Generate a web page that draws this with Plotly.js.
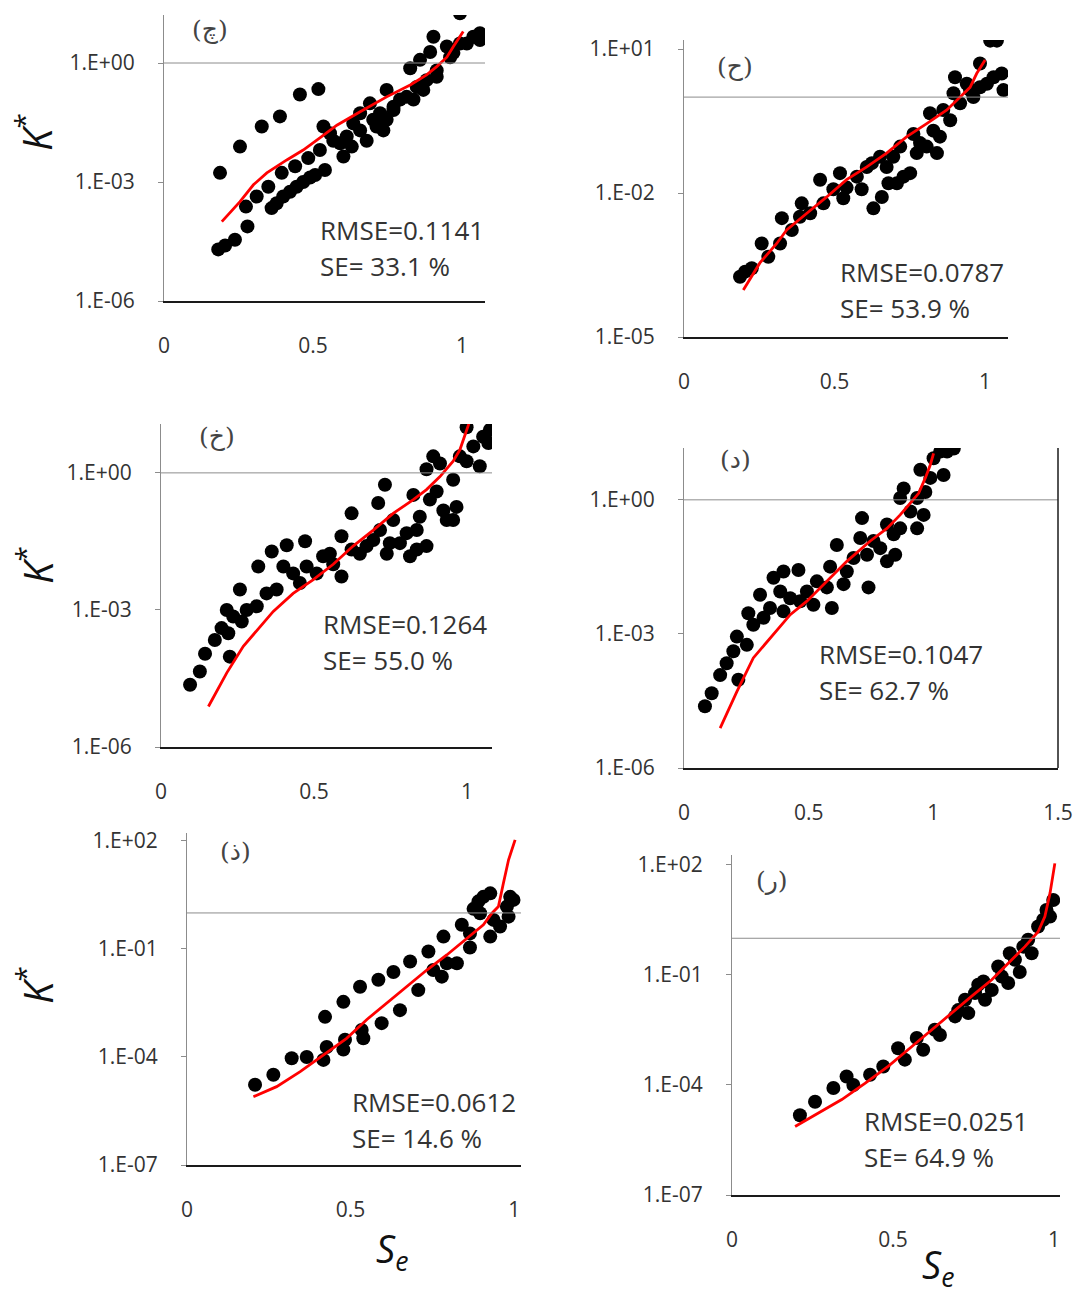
<!DOCTYPE html>
<html>
<head>
<meta charset="utf-8">
<script src="https://cdn.plot.ly/plotly-3.0.1.min.js"></script>
<style>html,body{margin:0;padding:0;background:#fff;}#chart{width:1075px;height:1295px;}</style>
</head>
<body>
<div id="chart"></div>
<script>
// ---------- DATA ----------
// Panel (چ)
const se1 = [0.182,0.205,0.238,0.280,0.275,0.311,0.350,0.361,0.378,0.400,0.423,0.445,0.467,0.490,0.507,0.395,0.440,0.484,0.523,0.540,0.535,0.568,0.591,0.602,0.630,0.613,0.635,0.658,0.680,0.702,0.691,0.725,0.736,0.747,0.770,0.747,0.792,0.814,0.837,0.826,0.859,0.881,0.893,0.904,0.915,0.870,0.949,0.960,0.993,1.016,1.038,1.060,1.060,0.993,0.557,0.658,0.713,0.770,0.848,0.915,0.971,0.188,0.255,0.328,0.389,0.456,0.518];
const k1  = [2.0e-5,2.5e-5,3.5e-5,7.6e-5,2.4e-4,4.3e-4,7.6e-4,2.2e-4,2.9e-4,4.3e-4,5.7e-4,7.6e-4,1.0e-3,1.3e-3,1.5e-3,1.7e-3,2.5e-3,4.0e-3,6.4e-3,2.0e-3,2.5e-2,1.1e-2,9.5e-3,4.4e-3,7.8e-3,1.4e-2,3.0e-2,5.4e-2,1.1e-2,3.7e-2,9.6e-2,5.4e-2,2.0e-2,3.7e-2,7.9e-2,0.21,0.12,0.14,0.12,0.74,1.2,0.37,1.9,4.6,0.45,0.21,2.6,1.4,3.1,3.1,4.6,3.8,5.6,18,1.7e-2,2.0e-2,2.5e-2,6.5e-2,0.25,0.65,1.8,1.7e-3,7.8e-3,2.5e-2,4.5e-2,0.16,0.22];
const fitSe1 = [0.194,0.255,0.300,0.345,0.412,0.467,0.523,0.580,0.658,0.747,0.826,0.881,0.915,0.949,0.971,1.004];
const fitK1  = [1.0e-4,3.2e-4,8.5e-4,1.7e-3,3.6e-3,6.4e-3,1.3e-2,2.7e-2,5.9e-2,0.14,0.28,0.50,0.81,1.4,2.6,6.2];

// Panel (ح)
const se2 = [0.186,0.203,0.225,0.258,0.280,0.319,0.325,0.358,0.391,0.385,0.419,0.452,0.463,0.496,0.518,0.540,0.529,0.574,0.590,0.607,0.624,0.629,0.651,0.657,0.673,0.679,0.695,0.707,0.729,0.751,0.718,0.762,0.773,0.784,0.806,0.828,0.850,0.840,0.817,0.861,0.884,0.895,0.900,0.917,0.939,0.961,0.983,1.006,1.028,1.055,1.061,1.017,1.039,0.950,0.983];
const k2  = [1.8e-4,2.3e-4,2.7e-4,8.9e-4,4.7e-4,8.9e-4,3.0e-3,1.7e-3,6.1e-3,3.2e-3,3.8e-3,1.9e-2,6.1e-3,1.2e-2,2.6e-2,1.3e-2,7.8e-3,2.2e-2,1.2e-2,3.5e-2,4.2e-2,4.8e-3,5.7e-2,8.3e-3,3.5e-2,1.6e-2,5.7e-2,1.6e-2,2.2e-2,2.6e-2,9.3e-2,0.17,6.8e-2,0.11,9.3e-2,0.20,0.15,6.8e-2,0.46,0.54,0.33,1.2,2.6,0.74,1.9,1.0,5.0,1.9,2.6,3.1,1.4,15,15,1.4,1.6];
const fitSe2 = [0.197,0.252,0.308,0.341,0.408,0.474,0.540,0.607,0.673,0.740,0.806,0.873,0.917,0.950,0.972,1.000];
const fitK2  = [9.5e-5,3.5e-4,8.9e-4,1.7e-3,3.8e-3,8.3e-3,1.9e-2,3.5e-2,6.8e-2,0.15,0.28,0.54,1.0,1.6,3.1,5.9];

// Panel (خ)
const se3 = [0.095,0.127,0.144,0.176,0.198,0.220,0.225,0.215,0.236,0.258,0.264,0.280,0.313,0.318,0.345,0.362,0.378,0.400,0.411,0.432,0.454,0.471,0.476,0.509,0.530,0.552,0.563,0.590,0.590,0.623,0.623,0.650,0.672,0.694,0.710,0.716,0.738,0.732,0.748,0.759,0.781,0.803,0.814,0.836,0.836,0.868,0.846,0.825,0.868,0.890,0.912,0.901,0.879,0.923,0.934,0.955,0.955,0.966,0.977,0.999,1.021,1.042,1.053,1.070,1.075,0.999];
const k3  = [2.3e-5,4.5e-5,1.1e-4,2.2e-4,4.0e-4,3.1e-4,9.5e-5,1.0e-3,7.2e-4,2.8e-3,5.6e-4,1.0e-3,1.2e-3,8.9e-3,2.3e-3,1.9e-2,2.8e-3,8.9e-3,2.6e-2,6.3e-3,3.9e-3,3.2e-2,8.9e-3,6.3e-3,1.5e-2,1.7e-2,1.0e-2,5.4e-3,4.1e-2,0.13,2.1e-2,1.7e-2,2.5e-2,3.4e-2,0.22,5.6e-2,1.7e-2,0.55,2.9e-2,9.3e-2,2.9e-2,4.8e-2,1.5e-2,5.6e-2,2.1e-2,2.5e-2,0.11,0.33,1.2,2.3,1.6,0.39,0.26,0.15,9.3e-2,9.3e-2,0.71,0.18,2.3,1.8,3.8,1.4,6.2,4.5,8.7,10];
const fitSe3 = [0.155,0.215,0.269,0.324,0.367,0.432,0.498,0.563,0.628,0.694,0.759,0.825,0.868,0.912,0.955,0.977,0.993,1.010];
const fitK3  = [7.7e-6,4.2e-5,1.6e-4,4.3e-4,9.3e-4,2.3e-3,4.6e-3,1.0e-2,2.5e-2,5.6e-2,0.13,0.26,0.43,0.83,1.8,3.2,6.2,14];

// Panel (د)
const se4 = [0.084,0.111,0.145,0.171,0.198,0.218,0.212,0.252,0.258,0.278,0.305,0.319,0.345,0.359,0.386,0.399,0.399,0.426,0.459,0.466,0.493,0.519,0.533,0.573,0.593,0.586,0.613,0.640,0.653,0.680,0.707,0.714,0.734,0.740,0.760,0.787,0.814,0.841,0.847,0.814,0.867,0.867,0.881,0.908,0.935,0.935,0.961,0.968,0.948,0.988,1.001,1.041,1.028,1.055,1.082];
const k4  = [2.4e-5,4.7e-5,1.2e-4,2.2e-4,4.1e-4,9.4e-5,8.7e-4,5.7e-4,2.9e-3,1.6e-3,7.5e-3,2.3e-3,3.8e-3,1.8e-2,8.9e-3,2.5e-2,3.2e-3,6.3e-3,2.7e-2,5.4e-3,8.9e-3,4.5e-3,1.5e-2,1.1e-2,3.8e-3,3.2e-2,9.8e-2,1.3e-2,2.5e-2,5.0e-2,0.14,0.39,5.9e-2,1.1e-2,0.12,8.3e-2,4.2e-2,0.17,5.9e-2,0.28,0.23,1.1,1.8,0.55,1.1,0.23,0.46,1.5,4.7,3.1,8.5,3.6,12,12,14];
const fitSe4 = [0.145,0.212,0.278,0.345,0.426,0.493,0.573,0.653,0.747,0.814,0.867,0.908,0.941,0.968,0.988,1.001];
const fitK4  = [7.8e-6,5.1e-5,2.9e-4,8.1e-4,2.7e-3,5.4e-3,1.5e-2,4.2e-2,0.12,0.23,0.46,0.85,1.4,3.1,6.1,11];

// Panel (ذ)
const se5 = [0.208,0.264,0.320,0.366,0.417,0.427,0.422,0.478,0.478,0.483,0.529,0.534,0.539,0.585,0.595,0.631,0.651,0.682,0.707,0.738,0.753,0.784,0.779,0.794,0.825,0.840,0.865,0.876,0.891,0.906,0.927,0.927,0.937,0.957,0.988,0.998,0.983,0.978,0.865,0.896];
const k5  = [1.7e-5,3.2e-5,9.2e-5,1.0e-4,8.3e-5,1.9e-4,1.3e-3,3.4e-3,1.6e-4,3.0e-4,8.9e-3,5.6e-4,3.3e-4,1.4e-2,8.7e-4,2.3e-2,2.0e-3,4.5e-2,7.2e-3,8.5e-2,2.6e-2,0.22,1.7e-2,4.0e-2,4.0e-2,0.47,0.11,1.3,2.1,2.8,3.5,0.22,0.64,0.42,2.8,2.3,0.79,1.5,0.27,0.98];
const fitSe5 = [0.203,0.274,0.346,0.407,0.488,0.550,0.611,0.672,0.733,0.794,0.855,0.906,0.932,0.952,0.967,0.983,1.003];
const fitK5  = [7.9e-6,1.5e-5,3.9e-5,1.0e-4,3.3e-4,1.1e-3,3.1e-3,8.9e-3,2.6e-2,6.8e-2,0.20,0.47,0.98,1.5,6.6,30,107];

// Panel (ر)
const se6 = [0.211,0.258,0.315,0.356,0.377,0.429,0.470,0.516,0.537,0.574,0.594,0.630,0.646,0.693,0.703,0.734,0.724,0.755,0.765,0.781,0.786,0.807,0.827,0.838,0.858,0.863,0.879,0.894,0.905,0.920,0.931,0.951,0.967,0.977,0.998,0.988];
const k6  = [1.5e-5,3.5e-5,8.3e-5,1.7e-4,1.0e-4,1.9e-4,3.2e-4,1.0e-3,4.9e-4,1.9e-3,9.1e-4,3.2e-3,2.3e-3,7.4e-3,1.1e-2,9.1e-3,2.1e-2,3.2e-2,5.4e-2,6.6e-2,2.1e-2,3.9e-2,0.17,9.1e-2,6.0e-2,0.39,0.26,0.12,0.59,0.91,0.39,2.1,3.2,5.9,11,3.9];
const fitSe6 = [0.196,0.268,0.341,0.413,0.485,0.558,0.620,0.682,0.744,0.807,0.858,0.910,0.951,0.972,0.988,1.003];
const fitK6  = [7.4e-6,1.7e-5,4.0e-5,1.1e-4,3.2e-4,1.1e-3,3.2e-3,9.1e-3,2.6e-2,7.4e-2,0.21,0.59,1.5,3.9,17,110];

// Labels and ticks
const panelLabels = ["(چ)","(ح)","(خ)","(د)","(ذ)","(ر)"];
const rmseTexts = ["RMSE=0.1141","RMSE=0.0787","RMSE=0.1264","RMSE=0.1047","RMSE=0.0612","RMSE=0.0251"];
const seTexts = ["SE= 33.1 %","SE= 53.9 %","SE= 55.0 %","SE= 62.7 %","SE= 14.6 %","SE= 64.9 %"];
const yTickVals6 = [1e-6,1e-3,1];
const yTickText6 = ["1.E-06","1.E-03","1.E+00"];
const yTickVals5 = [1e-5,1e-2,10];
const yTickText5 = ["1.E-05","1.E-02","1.E+01"];
const yTickVals7 = [1e-7,1e-4,1e-1,100];
const yTickText7 = ["1.E-07","1.E-04","1.E-01","1.E+02"];
const xTickVals = [0,0.5,1];
const xTickText = ["0","0.5","1"];
const xTickVals15 = [0,0.5,1,1.5];
const xTickText15 = ["0","0.5","1","1.5"];

// ---------- LAYOUT GEOMETRY ----------
const W = 1075, H = 1295;
const panels = [
  {se:se1,k:k1,fs:fitSe1,fk:fitK1,px:[164,485],py:[15,301],xr:[0,1.077],yr:[-6,1.21],yv:yTickVals6,yt:yTickText6,xv:xTickVals,xt:xTickText,lab:[210,30],txt:[318,230],ticks:false,box:false},
  {se:se2,k:k2,fs:fitSe2,fk:fitK2,px:[684,1008],py:[40,337],xr:[0,1.076],yr:[-5,1.19],yv:yTickVals5,yt:yTickText5,xv:xTickVals,xt:xTickText,lab:[735,67],txt:[838,272],ticks:false,box:false},
  {se:se3,k:k3,fs:fitSe3,fk:fitK3,px:[161,492],py:[424,747],xr:[0,1.082],yr:[-6,1.07],yv:yTickVals6,yt:yTickText6,xv:xTickVals,xt:xTickText,lab:[217,437],txt:[321,624],ticks:true,box:false},
  {se:se4,k:k4,fs:fitSe4,fk:fitK4,px:[684,1058],py:[448,768],xr:[0,1.5],yr:[-6,1.16],yv:yTickVals6,yt:yTickText6,xv:xTickVals15,xt:xTickText15,lab:[735,460],txt:[817,654],ticks:true,box:true},
  {se:se5,k:k5,fs:fitSe5,fk:fitK5,px:[187,521],py:[833,1165],xr:[0,1.021],yr:[-7,2.22],yv:yTickVals7,yt:yTickText7,xv:xTickVals,xt:xTickText,lab:[235,851],txt:[350,1102],ticks:false,box:false},
  {se:se6,k:k6,fs:fitSe6,fk:fitK6,px:[732,1060],py:[855,1195],xr:[0,1.019],yr:[-7,2.27],yv:yTickVals7,yt:yTickText7,xv:xTickVals,xt:xTickText,lab:[772,880],txt:[862,1121],ticks:false,box:false}
];

const FONT = "Open Sans, Liberation Sans, sans-serif";
const TXT = "#333333";
const GRAY = "#8c8c8c";
const traces = [];
const layout = {
  width: W, height: H, margin:{l:0,r:0,t:0,b:0},
  paper_bgcolor:"#fff", plot_bgcolor:"#fff", showlegend:false,
  shapes:[], annotations:[]
};

panels.forEach((p,i)=>{
  const n = i===0 ? "" : String(i+1);
  const xa = "x"+n, ya = "y"+n;
  traces.push({type:"scatter",mode:"markers",x:p.se,y:p.k,xaxis:xa,yaxis:ya,
    marker:{color:"#000",size:14},hoverinfo:"skip"});
  traces.push({type:"scatter",mode:"lines",x:p.fs,y:p.fk,xaxis:xa,yaxis:ya,
    line:{color:"#ff0000",width:2.8},hoverinfo:"skip"});
  layout["xaxis"+n] = {
    domain:[p.px[0]/W,p.px[1]/W], anchor:ya, range:p.xr, showgrid:false, zeroline:false,
    showline:true, linecolor:"#1a1a1a", linewidth:1.5, ticks:"",
    tickmode:"array", tickvals:p.xv, ticktext:p.xt, ticklabelstandoff:25,
    tickfont:{family:FONT,size:21,color:TXT}, fixedrange:true
  };
  layout["yaxis"+n] = {
    domain:[1-p.py[1]/H,1-p.py[0]/H], anchor:xa, type:"log", range:p.yr, showgrid:false, zeroline:false,
    showline:true, linecolor:GRAY, linewidth:1, ticks:"outside", ticklen:5, tickcolor:GRAY,
    tickmode:"array", tickvals:p.yv, ticktext:p.yt, ticklabelstandoff:19,
    tickfont:{family:FONT,size:21,color:TXT}, fixedrange:true
  };
  // horizontal axis line at K* = 1
  layout.shapes.push({type:"line",xref:xa+" domain",yref:ya,x0:0,x1:1,y0:1,y1:1,line:{color:GRAY,width:1}});
  if (p.ticks) {
    p.xv.forEach(v=>{ if (v>0) layout.shapes.push({type:"line",xref:xa,yref:ya,ysizemode:"pixel",yanchor:1,x0:v,x1:v,y0:0,y1:-7,line:{color:GRAY,width:1}}); });
  }
  if (p.box) {
    layout.shapes.push({type:"line",xref:xa+" domain",yref:ya+" domain",x0:1,x1:1,y0:0,y1:1,line:{color:"#1a1a1a",width:1.5}});
  }
  layout.annotations.push({xref:"paper",yref:"paper",x:p.lab[0]/W,y:1-p.lab[1]/H,text:panelLabels[i],showarrow:false,
    xanchor:"center",yanchor:"middle",font:{family:"DejaVu Serif, DejaVu Sans, serif",size:25,color:"#444"}});
  layout.annotations.push({xref:"paper",yref:"paper",x:p.txt[0]/W,y:1-p.txt[1]/H,text:rmseTexts[i],showarrow:false,
    xanchor:"left",yanchor:"middle",font:{family:FONT,size:26,color:TXT}});
  layout.annotations.push({xref:"paper",yref:"paper",x:p.txt[0]/W,y:1-(p.txt[1]+36)/H,text:seTexts[i],showarrow:false,
    xanchor:"left",yanchor:"middle",font:{family:FONT,size:26,color:TXT}});
});

// axis titles
[[35,132],[35,565],[35,985]].forEach(c=>{
  layout.annotations.push({xref:"paper",yref:"paper",x:c[0]/W,y:1-c[1]/H,text:"<i>K</i><sup>*</sup>",showarrow:false,
    textangle:-90,xanchor:"center",yanchor:"middle",font:{family:FONT,size:40,color:"#111"}});
});
[[392,1250],[938,1266]].forEach(c=>{
  layout.annotations.push({xref:"paper",yref:"paper",x:c[0]/W,y:1-c[1]/H,text:"<i>S<sub>e</sub></i>",showarrow:false,
    xanchor:"center",yanchor:"middle",font:{family:FONT,size:38,color:"#111"}});
});

Plotly.newPlot("chart",traces,layout,{staticPlot:true,displayModeBar:false});
</script>
</body>
</html>
